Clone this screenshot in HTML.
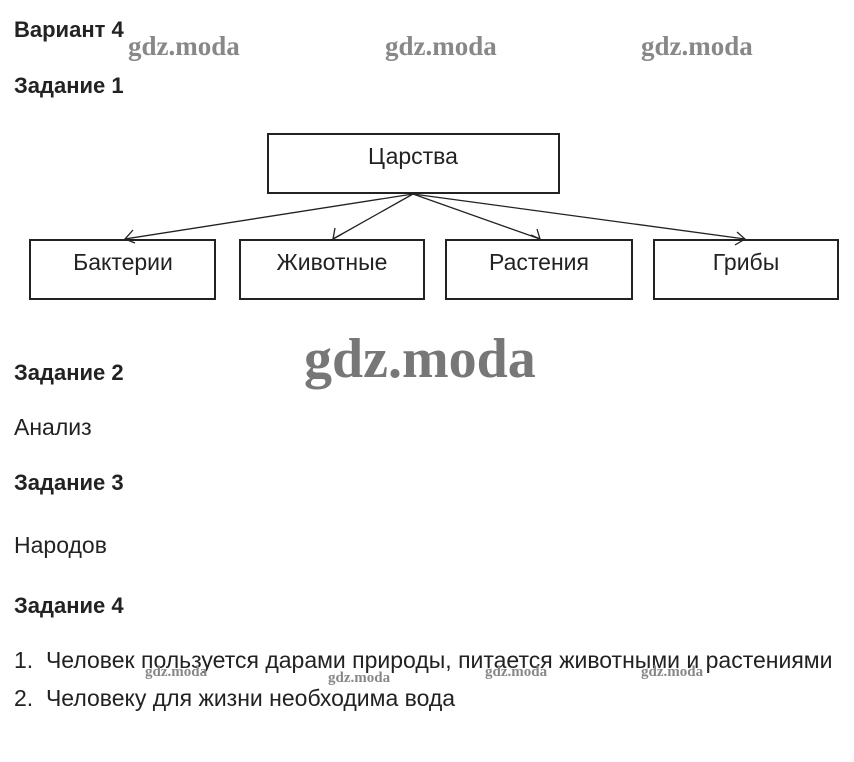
<!DOCTYPE html>
<html><head><meta charset="utf-8"><style>
body{margin:0;width:854px;height:762px;background:#fff;position:relative;font-family:"Liberation Sans",Arial,sans-serif;color:#222;overflow:hidden}
.t{position:absolute;white-space:nowrap}
.b{font-weight:bold;font-size:22px}
.n{font-size:23px}
.w{position:absolute;font-family:"Liberation Serif",serif;font-weight:bold;color:#888;white-space:nowrap}
</style></head><body>
<div class="t b" style="left:14px;top:17px">Вариант 4</div>
<div class="w" style="left:128px;top:31px;font-size:27px">gdz.moda</div>
<div class="w" style="left:385px;top:31px;font-size:27px">gdz.moda</div>
<div class="w" style="left:641px;top:31px;font-size:27px">gdz.moda</div>
<div class="t b" style="left:14px;top:73px">Задание 1</div>
<svg style="position:absolute;left:0;top:0" width="854" height="320">
<g fill="none" stroke="#222" stroke-width="2">
<rect x="268" y="134" width="291" height="59"/>
<rect x="30" y="240" width="185" height="59"/>
<rect x="240" y="240" width="184" height="59"/>
<rect x="446" y="240" width="186" height="59"/>
<rect x="654" y="240" width="184" height="59"/>
</g>
<g fill="none" stroke="#222" stroke-width="1.3">
<line x1="413" y1="194" x2="125" y2="239"/>
<line x1="413" y1="194" x2="333" y2="239"/>
<line x1="413" y1="194" x2="540" y2="239"/>
<line x1="413" y1="194" x2="745" y2="239"/>
<polyline points="133,230 125,239 135,243"/>
<polyline points="335,228 333,239 342,234"/>
<polyline points="531,235 540,239 537,229"/>
<polyline points="735,245 745,239 737,232"/>
</g>
<g font-size="23" fill="#222" text-anchor="middle" font-family="Liberation Sans,Arial,sans-serif">
<text x="413" y="164">Царства</text>
<text x="123" y="270">Бактерии</text>
<text x="332" y="270">Животные</text>
<text x="539" y="270">Растения</text>
<text x="746" y="270">Грибы</text>
</g>
</svg>
<div class="w" style="left:304px;top:327px;font-size:56px;color:#777">gdz.moda</div>
<div class="t b" style="left:14px;top:360px">Задание 2</div>
<div class="t n" style="left:14px;top:414px">Анализ</div>
<div class="t b" style="left:14px;top:470px">Задание 3</div>
<div class="t n" style="left:14px;top:532px">Народов</div>
<div class="t b" style="left:14px;top:593px">Задание 4</div>
<div class="t n" style="left:14px;top:647px">1.&nbsp;&nbsp;Человек пользуется дарами природы, питается животными и растениями</div>
<div class="w" style="left:145px;top:664px;font-size:15px">gdz.moda</div>
<div class="w" style="left:328px;top:670px;font-size:15px">gdz.moda</div>
<div class="w" style="left:485px;top:664px;font-size:15px">gdz.moda</div>
<div class="w" style="left:641px;top:664px;font-size:15px">gdz.moda</div>
<div class="t n" style="left:14px;top:685px">2.&nbsp;&nbsp;Человеку для жизни необходима вода</div>
</body></html>
